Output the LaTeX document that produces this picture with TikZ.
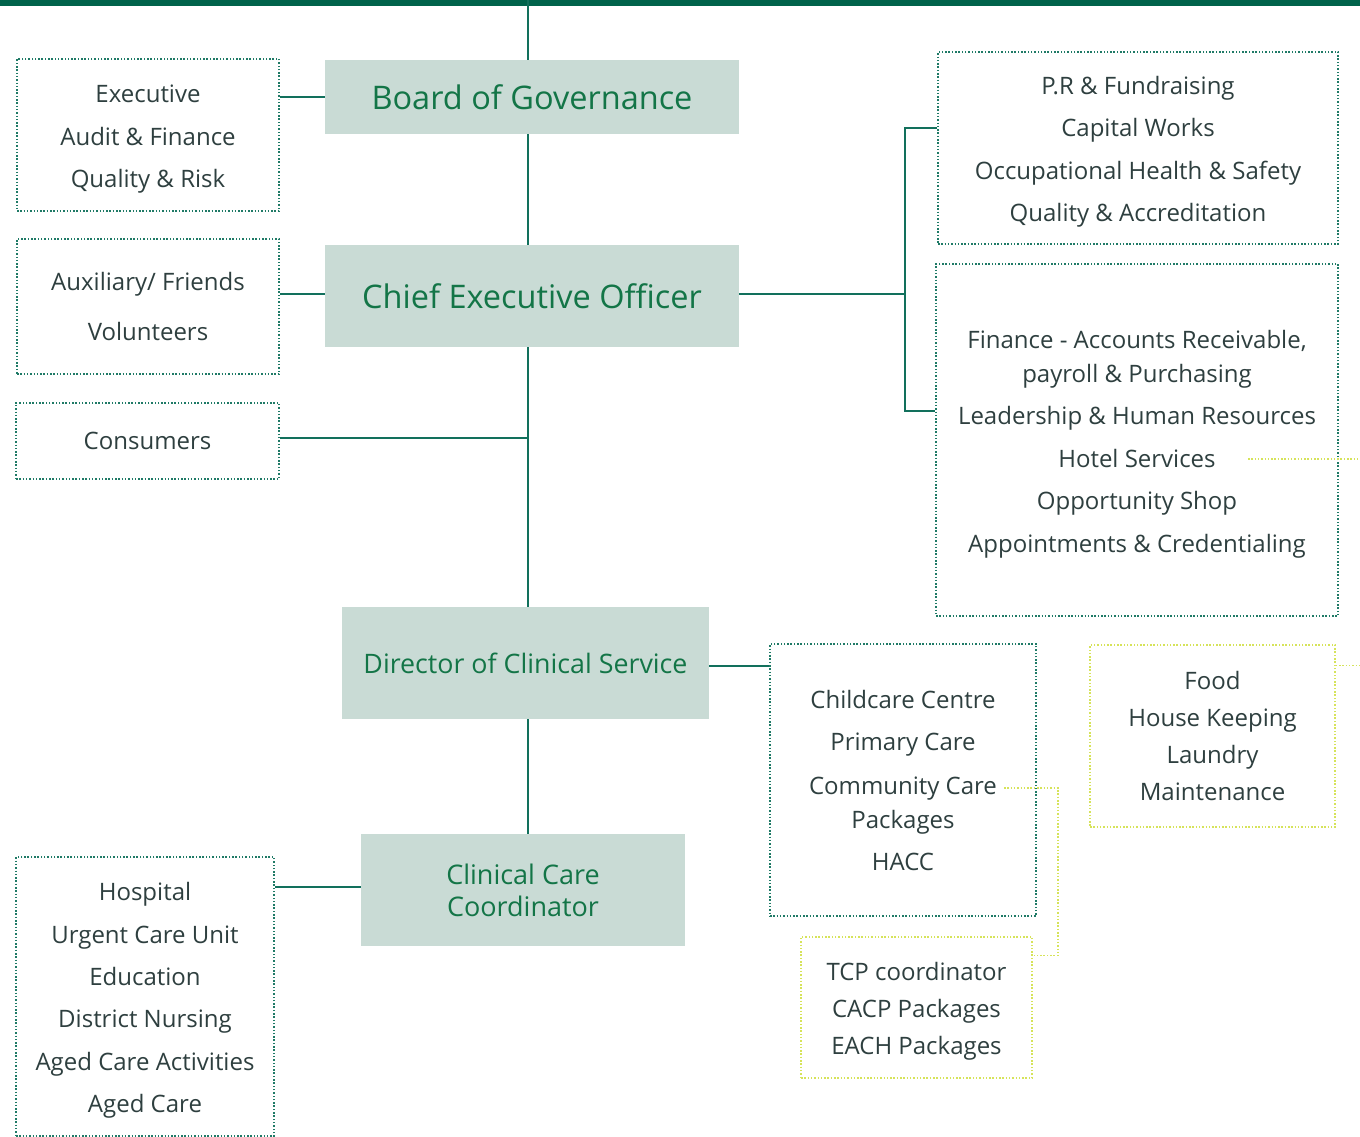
\documentclass[tikz,border=0pt]{standalone}
\usepackage{fontspec}
\setmainfont{Open Sans}
\usetikzlibrary{calc}
\definecolor{barGreen}{HTML}{00634B}
\definecolor{linkGreen}{HTML}{12705C}
\definecolor{dotGreen}{HTML}{1F7A66}
\definecolor{dotYellow}{HTML}{D6E35A}
\definecolor{headFill}{HTML}{C9DBD5}
\definecolor{headText}{HTML}{137547}
\definecolor{bodyText}{HTML}{2E3F3F}
\newcommand{\topgap}{\rule{0pt}{26pt}}
\tikzset{
	head/.style={fill=headFill, text=headText, inner sep=0pt, align=center, font=\fontsize{32.5}{40}\selectfont},
	unit/.style={draw=dotGreen, line width=1.5pt, dash pattern=on 1.5pt off 1.8pt, text=bodyText, inner sep=0pt, align=center, font=\fontsize{24}{42.4}\selectfont},
	subunit/.style={unit, draw=dotYellow},
	link/.style={draw=linkGreen, line width=1.8pt},
	ylink/.style={draw=dotYellow, line width=1.5pt, dash pattern=on 1.5pt off 1.8pt},
}

\begin{document}
\begin{tikzpicture}[x=1pt,y=-1pt]
	\useasboundingbox (0,0) rectangle (1360,1137);
	\fill[barGreen] (0,0) rectangle (1360,6);
	\coordinate (top) at (528,0);
	\coordinate (rim) at (1360,0);
	% main line of command
	\node[head] (board) at (532,97) [minimum width=414pt, minimum height=74pt] {Board of Governance};
	\node[head] (ceo) at (532,296) [minimum width=414pt, minimum height=102pt] {Chief Executive Officer};
	\node[head, font=\fontsize{26.8}{32}\selectfont] (dcs) at (525.5,663) [minimum width=367pt, minimum height=112pt] {Director of Clinical Service};
	\node[head, font=\fontsize{27}{32}\selectfont] (ccc) at (523,890) [minimum width=324pt, minimum height=112pt] {Clinical Care\\Coordinator};
	% committees and units
	\node[unit] (exec) at (148,135) [minimum width=262pt, minimum height=152pt] {\topgap Executive\\Audit \& Finance\\Quality \& Risk};
	\node[unit, font=\fontsize{24}{50}\selectfont] (aux) at (148,306.5) [minimum width=262pt, minimum height=135pt] {Auxiliary/ Friends\\Volunteers};
	\node[unit] (cons) at (147.5,441) [minimum width=263pt, minimum height=76pt] {Consumers};
	\node[unit] (hosp) at (145,996.5) [minimum width=258pt, minimum height=279pt] {\topgap Hospital\\Urgent Care Unit\\Education\\District Nursing\\Aged Care Activities\\Aged Care};
	\node[unit] (prf) at (1138,148) [minimum width=400pt, minimum height=192pt] {\topgap P.R \& Fundraising\\Capital Works\\Occupational Health \& Safety\\Quality \& Accreditation};
	\node[unit] (fin) at (1137,440) [minimum width=402pt, minimum height=352pt] {\topgap Finance - Accounts Receivable,\\[-8pt]payroll \& Purchasing\\Leadership \& Human Resources\\Hotel Services\\Opportunity Shop\\Appointments \& Credentialing};
	\node[unit, font=\fontsize{24}{42}\selectfont] (clin) at (903,780) [minimum width=266pt, minimum height=272pt] {Childcare Centre\\Primary Care\\[2pt]Community Care\\[-8pt]Packages\\HACC};
	\node[subunit, font=\fontsize{24}{37}\selectfont] (tcp) at (916.5,1007.5) [minimum width=231pt, minimum height=141pt] {\topgap TCP coordinator\\CACP Packages\\EACH Packages};
	\node[subunit, font=\fontsize{24}{36.7}\selectfont] (food) at (1212.5,736) [minimum width=245pt, minimum height=182pt] {Food\\House Keeping\\Laundry\\Maintenance};
	% connectors
	\draw[link] (top) -- (top |- board.north);
	\draw[link] (top |- board.south) -- (top |- ceo.north);
	\draw[link] (top |- ceo.south) -- (top |- dcs.north);
	\draw[link] (top |- dcs.south) -- (top |- ccc.north);
	\draw[link] (board.west) -- (board.west -| exec.east);
	\draw[link] ([yshift=2pt]ceo.west) -- ([yshift=2pt]ceo.west -| aux.east);
	\draw[link] ([yshift=3pt]cons.east) -- ([yshift=3pt]cons.east -| top);
	\draw[link] ([yshift=2pt]ceo.east) -- ++(166,0) coordinate (fork);
	\draw[link] ([yshift=20pt]prf.west) -| (fork) |- ([yshift=29pt]fin.west);
	\draw[link] ([yshift=-3pt]dcs.east) -- ([yshift=-3pt]dcs.east -| clin.west);
	\draw[link] ([yshift=3pt]ccc.west) -- ([yshift=3pt]ccc.west -| hosp.east);
	\coordinate (hotel) at (1248,459);
	\coordinate (comm) at (1004,788);
	\coordinate (kitchen) at ([yshift=-21pt]food.north east);
	\draw[ylink] (hotel) -- (hotel -| rim);
	\draw[ylink] (comm) -- ++(54,0) |- ([yshift=-19pt]tcp.north east);
	\draw[ylink] (kitchen) -- (kitchen -| rim);
\end{tikzpicture}
\end{document}
